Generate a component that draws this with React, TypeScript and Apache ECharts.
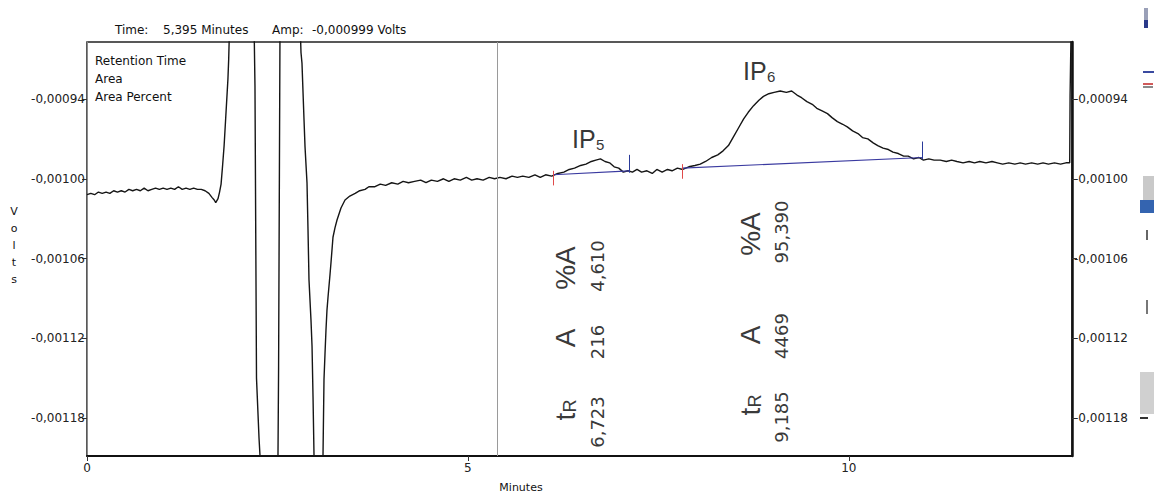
import React, { useEffect, useRef } from "react";
import * as echarts from "echarts";

// Chromatogram trace: time in minutes, detector signal in microvolts
const TIME_MIN = [
  0, 0.05, 0.1, 0.15, 0.2, 0.25, 0.3, 0.35, 0.4, 0.45, 0.5, 0.55, 0.6, 0.65, 0.7, 0.75, 0.8, 0.85, 0.9, 0.95,
  1.0, 1.05, 1.1, 1.15, 1.2, 1.25, 1.3, 1.35, 1.4, 1.45, 1.5, 1.55, 1.6, 1.64, 1.67, 1.69, 1.72, 1.74, 1.76, 1.78,
  1.8, 1.82, 1.84, 1.85, 1.86, 1.87,
  2.192, 2.205, 2.225, 2.258, 2.271, 2.507, 2.515, 2.534,
  2.796, 2.809, 2.822, 2.849, 2.862, 2.888, 2.901, 2.914, 2.94, 2.954, 2.967, 2.98, 3.098, 3.111, 3.124, 3.137,
  3.15, 3.164, 3.19, 3.203, 3.229, 3.255, 3.282, 3.334, 3.387, 3.45, 3.52, 3.58, 3.65, 3.7, 3.78, 3.85, 3.92,
  4.0, 4.08, 4.15, 4.22, 4.3, 4.38, 4.45, 4.52, 4.6, 4.68, 4.75, 4.82, 4.9, 4.98, 5.05, 5.12, 5.2, 5.28, 5.35,
  5.42, 5.5, 5.58, 5.65, 5.72, 5.8, 5.88, 5.95, 6.02, 6.1, 6.18, 6.26, 6.33, 6.4, 6.48, 6.55, 6.62, 6.68, 6.74,
  6.8, 6.86, 6.92, 6.98, 7.04, 7.1, 7.16, 7.22, 7.28, 7.35, 7.42, 7.48, 7.55, 7.62, 7.68, 7.75, 7.82, 7.9, 7.98,
  8.05, 8.12, 8.2, 8.28, 8.35, 8.42, 8.48, 8.55, 8.62, 8.68, 8.75, 8.82, 8.88, 8.95, 9.02, 9.1, 9.18, 9.25, 9.32,
  9.38, 9.45, 9.52, 9.58, 9.65, 9.72, 9.78, 9.85, 9.92, 9.98, 10.05, 10.12, 10.18, 10.25, 10.32, 10.38, 10.45,
  10.52, 10.58, 10.65, 10.72, 10.78, 10.85, 10.92, 10.98, 11.05, 11.12, 11.2, 11.28, 11.35, 11.42, 11.5, 11.58,
  11.65, 11.72, 11.8, 11.88, 11.95, 12.02, 12.1, 12.18, 12.25, 12.32, 12.4, 12.48, 12.55, 12.62, 12.7, 12.78,
  12.85, 12.9, 12.905, 12.92,
];
const SIGNAL_UV = [
  -1012, -1011, -1012, -1010, -1011, -1010, -1011, -1009, -1010, -1009, -1010, -1008, -1009, -1008, -1009, -1007, -1009, -1008, -1007, -1008,
  -1007, -1008, -1007, -1008, -1006, -1008, -1007, -1008, -1007, -1008, -1008, -1009, -1011, -1014, -1016, -1018, -1015, -1010, -1004, -990,
  -975, -955, -935, -925, -910, -888,
  -880, -930, -1150, -1195, -1208.4, -1208.4, -1142, -880,
  -880, -905, -913, -956, -976, -1003, -1038, -1076, -1106, -1126, -1164, -1208.4, -1208.4, -1151, -1132, -1114,
  -1099, -1089, -1072, -1063, -1044, -1037, -1031, -1022, -1016, -1013, -1011, -1009, -1008, -1006, -1006, -1004, -1005,
  -1003, -1004, -1002, -1003, -1002, -1001, -1003, -1001, -1002, -1000, -1002, -1000, -1001, -999, -1001, -1000, -1001, -999, -1000,
  -999, -1000, -998, -999, -998, -999, -997, -999, -997, -998, -996, -995, -993, -992, -990, -989, -987, -986, -985,
  -987, -988, -991, -992, -995, -994, -995, -993, -995, -994, -996, -993, -995, -993, -994, -992, -993, -991, -990,
  -989, -987, -984, -982, -979, -975, -969, -962, -955, -950, -945, -941, -938, -936, -935, -934, -935, -934, -937,
  -939, -942, -944, -947, -949, -951, -954, -957, -959, -961, -964, -966, -969, -970, -973, -975, -977,
  -978, -980, -981, -983, -983, -985, -984, -986, -985, -986, -986, -987, -986, -987, -988, -987,
  -988, -987, -988, -987, -988, -989, -988, -989, -988, -989, -988, -989, -988, -989, -988, -989,
  -988, -988, -937, -880,
];

const Y_TICKS = [-0.00118, -0.00112, -0.00106, -0.001, -0.00094];
const Y_MIN = -0.0012086;
const Y_MAX = -0.0008971;
const X_MIN = 0;
const X_MAX = 12.93;
const X_INTERVAL = 5;
const CURSOR_TIME = 5.395;

// integration baselines: [startTime, startUV, endTime, endUV]
const BASELINES = [
  [6.12, -997, 7.12, -994],
  [7.81, -992, 10.97, -984],
];
const PEAK_START = [[6.12, -997], [7.81, -992]];
const PEAK_END = [[7.12, -994], [10.97, -984]];

const PEAK_NAMES = ["5", "6"];
const PEAK_RT = ["6,723", "9,185"];
const PEAK_AREA = ["216", "4469"];
const PEAK_PCT = ["4,610", "95,390"];

const HEADER = ["Time:", "5,395 Minutes", "Amp:", "-0,000999 Volts"];
const LEGEND_LINES = ["Retention Time", "Area", "Area Percent"];

const uv = (v: number) => v * 1e-6;
const fmtV = (v: number) => v.toFixed(5).replace(".", ",");
const SMALL = "DejaVu Sans";
const BIG = "Liberation Sans";

export default function App() {
  const ref = useRef<HTMLDivElement>(null);
  useEffect(() => {
    if (!ref.current) return;
    const chart = echarts.init(ref.current, null, { renderer: "svg" });
    const trace = TIME_MIN.map((t, i) => [t, uv(SIGNAL_UV[i])]);

    const markData: any[] = [
      { xAxis: CURSOR_TIME, lineStyle: { color: "#9a9a9a", width: 1, type: "solid" } },
    ];
    BASELINES.forEach((b) => {
      markData.push([
        { coord: [b[0], uv(b[1])], lineStyle: { color: "#3a3aa0", width: 1.2, type: "solid" } },
        { coord: [b[2], uv(b[3])] },
      ]);
    });
    PEAK_START.forEach((p) => {
      markData.push([
        { coord: [p[0], uv(p[1] + 3)], lineStyle: { color: "#e04a4a", width: 1, type: "solid" } },
        { coord: [p[0], uv(p[1] - 8)] },
      ]);
    });
    PEAK_END.forEach((p) => {
      markData.push([
        { coord: [p[0], uv(p[1] + 12)], lineStyle: { color: "#2a3a9a", width: 1, type: "solid" } },
        { coord: [p[0], uv(p[1] - 1.5)] },
      ]);
    });

    const txt = (text: string, x: number, y: number, extra: any = {}) => ({
      type: "text",
      x,
      y,
      style: {
        text,
        fontFamily: SMALL,
        fontSize: 11,
        fill: "#111",
        align: "left",
        verticalAlign: "middle",
        ...extra,
      },
    });

    const headerX = [115, 163, 272, 312];
    const graphics: any[] = [];
    HEADER.forEach((h, i) => graphics.push(txt(h, headerX[i], 30, { fontSize: 12 })));
    LEGEND_LINES.forEach((l, i) => graphics.push(txt(l, 95, [61, 79, 97][i], { fontSize: 12 })));
    "Volts".split("").forEach((c, i) => graphics.push(txt(c, 14, 211 + i * 17, { align: "center" })));
    graphics.push(txt("Minutes", 521, 487, { align: "center" }));

    // peak labels
    const ipPos = [
      [572, 139],
      [743, 71],
    ];
    PEAK_NAMES.forEach((n, i) => {
      graphics.push(txt("IP", ipPos[i][0], ipPos[i][1], { fontFamily: BIG, fontSize: 25, fill: "#383838" }));
      graphics.push(txt(n, ipPos[i][0] + 24, ipPos[i][1] + 5, { fontFamily: BIG, fontSize: 15, fill: "#383838" }));
    });

    // rotated result tables
    const cols = [
      { big: 565, num: 597, yPct: 268, yA: 338, yT: 410, nPct: 266, nA: 342, nT: 422 },
      { big: 750, num: 781, yPct: 234, yA: 335, yT: 405, nPct: 232, nA: 336, nT: 417 },
    ];
    const rot = (text: string, x: number, y: number, size: number, fam: string, rich?: any) => ({
      type: "text",
      x,
      y,
      rotation: Math.PI / 2,
      style: {
        text,
        fontFamily: fam,
        fontSize: size,
        fill: "#3a3a3a",
        align: "center",
        verticalAlign: "middle",
        ...(rich ? { rich } : {}),
      },
    });
    cols.forEach((c, i) => {
      graphics.push(rot("%A", c.big, c.yPct, 28, BIG));
      graphics.push(rot("A", c.big, c.yA, 28, BIG));
      graphics.push(
        rot("{t|t}{r|R}", c.big, c.yT, 28, BIG, {
          t: { fontSize: 28, fontFamily: BIG, fill: "#3a3a3a", verticalAlign: "bottom" },
          r: { fontSize: 18, fontFamily: BIG, fill: "#3a3a3a", verticalAlign: "bottom" },
        })
      );
      graphics.push(rot(PEAK_PCT[i], c.num, c.nPct, 18, SMALL));
      graphics.push(rot(PEAK_AREA[i], c.num, c.nA, 18, SMALL));
      graphics.push(rot(PEAK_RT[i], c.num, c.nT, 18, SMALL));
    });

    // cut-off toolbar on the right edge
    const rects = [
      [1144, 8, 4, 14, "#9aa0b8"],
      [1144, 20, 4, 8, "#2a3a8a"],
      [1143, 71, 11, 2, "#3a4aa0"],
      [1143, 83, 10, 2, "#d05a5a"],
      [1143, 86, 10, 2, "#8a8a8a"],
      [1143, 176, 11, 24, "#c9c9c9"],
      [1140, 200, 14, 13, "#3464b0"],
      [1146, 230, 2, 10, "#666"],
      [1146, 300, 2, 14, "#777"],
      [1140, 372, 14, 42, "#d0d0d0"],
      [1140, 417, 8, 2, "#333"],
    ];
    rects.forEach((r) =>
      graphics.push({
        type: "rect",
        shape: { x: r[0], y: r[1], width: r[2], height: r[3] },
        style: { fill: r[4] as string },
      })
    );

    const labelStyle = { fontFamily: SMALL, fontSize: 12, color: "#222" };

    chart.setOption({
      animation: false,
      backgroundColor: "#fff",
      grid: { left: 87, right: 82, top: 42, bottom: 39, show: true, borderColor: "#222", borderWidth: 1.5 },
      xAxis: {
        type: "value",
        min: X_MIN,
        max: X_MAX,
        interval: X_INTERVAL,
        axisLine: { lineStyle: { color: "#111", width: 2 } },
        axisTick: { length: 5, lineStyle: { color: "#333" } },
        axisLabel: { ...labelStyle, margin: 6, showMaxLabel: false, formatter: (v: number) => String(v) },
        splitLine: { show: false },
      },
      yAxis: [
        {
          type: "value",
          position: "left",
          min: Y_MIN,
          max: Y_MAX,
          axisLine: { show: true, lineStyle: { color: "#8a8a8a", width: 1 } },
          axisTick: { show: true, customValues: Y_TICKS, length: 5, lineStyle: { color: "#333" } },
          axisLabel: { ...labelStyle, customValues: Y_TICKS, margin: 2, formatter: fmtV },
          splitLine: { show: false },
        },
        {
          type: "value",
          position: "right",
          min: Y_MIN,
          max: Y_MAX,
          axisLine: { show: true, lineStyle: { color: "#111", width: 2.5 } },
          axisTick: { show: true, customValues: Y_TICKS, length: 5, lineStyle: { color: "#333" } },
          axisLabel: { ...labelStyle, customValues: Y_TICKS, margin: 2, formatter: fmtV },
          splitLine: { show: false },
        },
      ],
      series: [
        {
          type: "line",
          data: trace,
          showSymbol: false,
          symbol: "none",
          clip: true,
          lineStyle: { color: "#151515", width: 1.4 },
          markLine: {
            symbol: ["none", "none"],
            silent: true,
            label: { show: false },
            data: markData,
          },
        },
      ],
      graphic: graphics,
    });
    return () => chart.dispose();
  }, []);
  return <div ref={ref} style={{ position: "fixed", left: 0, top: 0, width: 1154, height: 495 }} />;
}
